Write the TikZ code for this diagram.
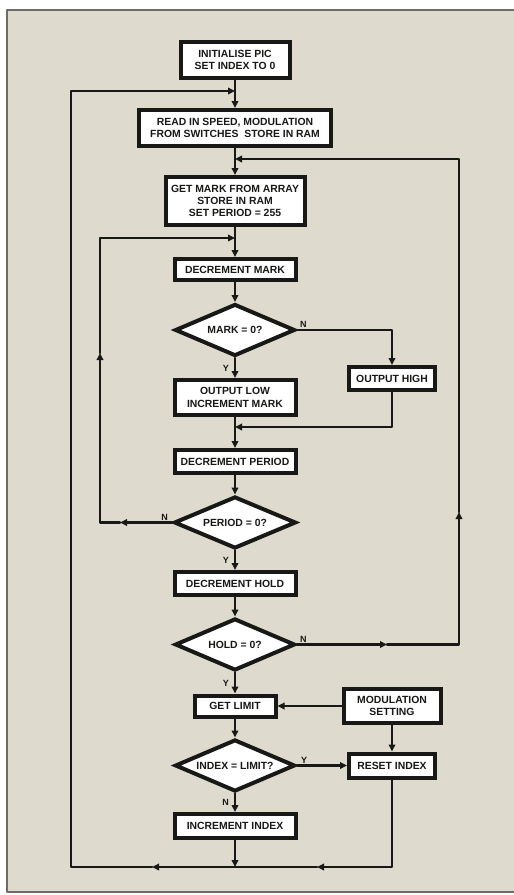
\documentclass[tikz,border=0pt]{standalone}
\usepackage{fontspec}
\newfontfamily\flowfont{Liberation Sans}
\usetikzlibrary{arrows.meta,shapes.geometric}
\definecolor{paper}{RGB}{222,219,206}
\definecolor{ink}{RGB}{24,24,22}
\definecolor{frameline}{RGB}{110,108,100}

\begin{document}
\begin{tikzpicture}[line cap=round,line join=round,>={Triangle[length=7pt,width=6.5pt]},x=1pt,y=1pt,
  every node/.style={font=\flowfont\bfseries\fontsize{10.4}{12.3}\selectfont,text=ink,align=center},
  box/.style={draw=ink,line width=4pt,fill=white,inner sep=0pt,line join=miter},
  test/.style={diamond,draw=ink,line width=4pt,fill=white,inner sep=0pt,aspect=2.3,
    minimum width=120pt,minimum height=52pt,line join=miter},
  flow/.style={draw=ink,line width=2.4pt},
  yn/.style={font=\flowfont\bfseries\fontsize{9}{10}\selectfont,inner sep=1pt},
  ynleft/.style={yn,left,xshift=-4pt}]
\useasboundingbox (0,0) rectangle (514,-895);

\fill[paper] (7,-10) rectangle (514,-892);
\draw[frameline,line width=1.5pt] (514,-10) -- (7,-10) -- (7,-892) -- (514,-892);

% main column
\node[box,minimum width=109pt,minimum height=36pt] (init) at (235,-60) {INITIALISE PIC\\SET INDEX TO 0};
\node[box,minimum width=192pt,minimum height=36pt] (read) at (235,-128) {READ IN SPEED, MODULATION\\FROM SWITCHES\ \ STORE IN RAM};
\node[box,minimum width=139pt,minimum height=48pt] (getmark) at (235,-201) {GET MARK FROM ARRAY\\STORE IN RAM\\SET PERIOD = 255};
\node[box,minimum width=121pt,minimum height=21pt] (decmark) at (235,-269.5) {DECREMENT MARK};
\node[test] (markq) at (235,-330) {MARK = 0?};
\node[box,minimum width=121pt,minimum height=35pt] (outlow) at (235,-397.5) {OUTPUT LOW\\INCREMENT MARK};
\node[box,minimum width=121pt,minimum height=23pt] (decperiod) at (235,-461.5) {DECREMENT PERIOD};
\node[test,minimum width=122pt] (periodq) at (235,-522.5) {PERIOD = 0?};
\node[box,minimum width=121pt,minimum height=23pt] (dechold) at (235,-583.5) {DECREMENT HOLD};
\node[test] (holdq) at (235,-644.5) {HOLD = 0?};
\node[box,minimum width=81pt,minimum height=21pt] (getlimit) at (235,-706) {GET LIMIT};
\node[test] (indexq) at (235,-765.5) {INDEX = LIMIT?};
\node[box,minimum width=121pt,minimum height=24pt] (incindex) at (235,-826) {INCREMENT INDEX};

% right column
\node[box,minimum width=86pt,minimum height=23pt] (outhigh) at (392,-378.5) {OUTPUT HIGH};
\node[box,minimum width=97pt,minimum height=34pt] (modset) at (392,-706) {MODULATION\\SETTING};
\node[box,minimum width=86pt,minimum height=24pt] (reset) at (392,-765.5) {RESET INDEX};

% loop corners and joins
\coordinate (j1) at (235,-91);
\coordinate (j2) at (235,-159);
\coordinate (j3) at (235,-238);
\coordinate (j4) at (235,-427);
\coordinate (pl1) at (100,-522.5);
\coordinate (pl2) at (100,-238);
\coordinate (m1) at (120,-522.5);
\coordinate (m2) at (100,-353);
\coordinate (hr1) at (459,-644.5);
\coordinate (hr2) at (459,-159);
\coordinate (m3) at (387,-644.5);
\coordinate (m4) at (459,-512);
\coordinate (b0) at (235,-867);
\coordinate (b1) at (392,-867);
\coordinate (b2) at (71,-867);
\coordinate (t1) at (71,-91);
\coordinate (m5) at (317,-867);
\coordinate (m6) at (152,-867);

% straight flow
\draw[flow,->] (init.south) -- (read.north);
\draw[flow,->] (read.south) -- (getmark.north);
\draw[flow,->] (getmark.south) -- (decmark.north);
\draw[flow,->] (decmark.south) -- (markq.north);
\draw[flow,->] (markq.south) -- node[ynleft] (ly1) {Y} (outlow.north);
\draw[flow,->] (outlow.south) -- (decperiod.north);
\draw[flow,->] (decperiod.south) -- (periodq.north);
\draw[flow,->] (periodq.south) -- node[ynleft] (ly2) {Y} (dechold.north);
\draw[flow,->] (dechold.south) -- (holdq.north);
\draw[flow,->] (holdq.south) -- node[ynleft] (ly3) {Y} (getlimit.north);
\draw[flow,->] (getlimit.south) -- (indexq.north);
\draw[flow,->] (indexq.south) -- node[ynleft] (ln4) {N} (incindex.north);
\draw[flow,->] (incindex.south) -- (b0);

% mark branch
\draw[flow,->] (markq.east) -| (outhigh.north);
\node[yn,anchor=south west,xshift=2pt,yshift=1pt] (ln1) at (markq.east) {N};
\draw[flow,->] (outhigh.south) |- (j4);

% period loop
\node[yn,anchor=south east,xshift=-3pt,yshift=1pt] (ln2) at (periodq.west) {N};
\draw[flow,->] (periodq.west) -- (m1);
\draw[flow,->] (m1) -- (pl1) -- (m2);
\draw[flow,->] (m2) -- (pl2) -- (j3);

% hold loop
\node[yn,anchor=south west,xshift=2pt,yshift=1pt] (ln3) at (holdq.east) {N};
\draw[flow,->] (holdq.east) -- (m3);
\draw[flow,->] (m3) -- (hr1) -- (m4);
\draw[flow,->] (m4) -- (hr2) -- (j2);

% limit
\draw[flow,->] (modset.west) -- (getlimit.east);
\draw[flow,->] (modset.south) -- (reset.north);
\draw[flow,->] (indexq.east) -- (reset.west);
\node[yn,anchor=south west,xshift=3pt,yshift=1pt] (ly4) at (indexq.east) {Y};

% outer loop
\draw[flow,->] (reset.south) -- (b1) -- (m5);
\draw[flow,->] (m5) -- (m6);
\draw[flow,->] (m6) -- (b2) -- (t1) -- (j1);

\end{tikzpicture}
\end{document}
